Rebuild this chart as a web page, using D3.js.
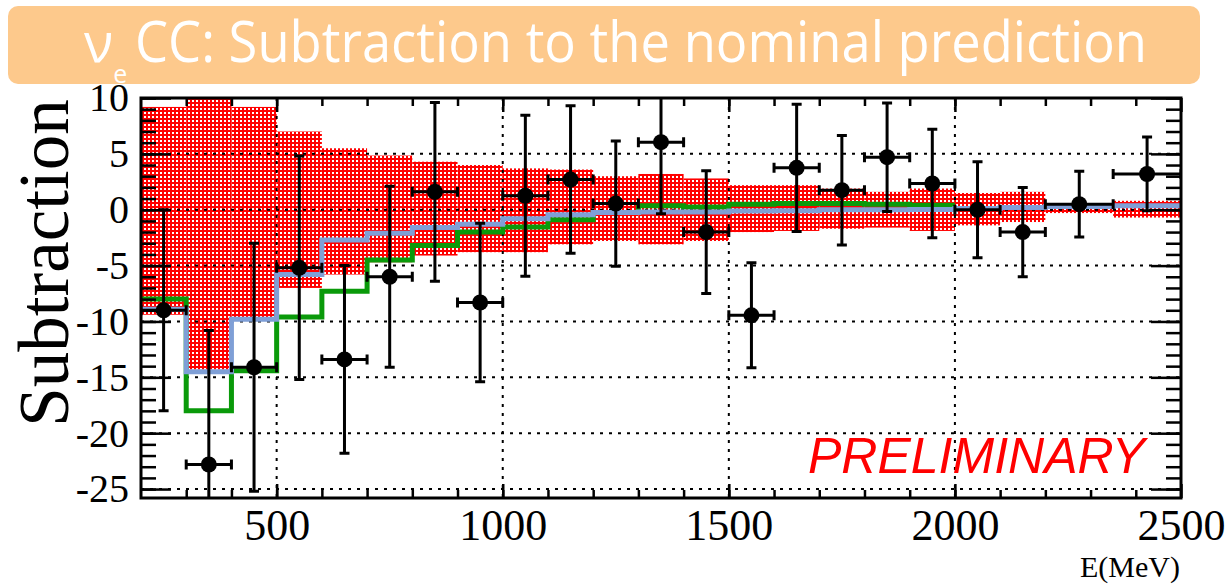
<!DOCTYPE html>
<html>
<head>
<meta charset="utf-8">
<script src="https://cdn.jsdelivr.net/npm/d3@7"></script>
<style>
  html, body { margin: 0; padding: 0; background: #fff; }
  svg { display: block; }
</style>
</head>
<body>
<div id="c"></div>
<script>
// bin edges (MeV); the last two bins are 150 MeV wide
const binEdges = [200, 300, 400, 500, 600, 700, 800, 900, 1000, 1100, 1200, 1300, 1400, 1500, 1600, 1700, 1800, 1900, 2000, 2100, 2200, 2350, 2500];
// systematic band, per bin
const bandLo = [-9.4, -14.3, -9.6, -7.0, -5.8, -4.7, -4.1, -3.8, -3.8, -3.1, -2.8, -3.1, -2.8, -2.0, -1.9, -1.7, -1.6, -1.9, -1.4, -1.1, -0.3, -0.7];
const bandHi = [9.2, 10.5, 9.2, 7.0, 5.5, 4.85, 4.3, 4.0, 3.7, 3.6, 3.0, 3.2, 2.8, 2.2, 2.2, 1.9, 1.6, 1.9, 1.5, 1.6, 0.5, 0.8];
// blue and green step histograms
const blueVals = [-8.9, -14.5, -9.8, -5.8, -2.7, -2.1, -1.6, -1.3, -0.8, -0.45, -0.25, -0.2, -0.2, -0.12, -0.08, 0.0, 0.0, 0.02, 0.1, 0.2, 0.3, 0.35];
const greenVals = [-8.0, -18.0, -14.4, -9.6, -7.3, -4.5, -3.2, -2.0, -1.55, -0.9, -0.25, 0.35, 0.25, 0.5, 0.55, 0.55, 0.5, 0.4];
// data points, one per bin
const dataVals = [-9.0, -22.8, -14.1, -5.2, -13.4, -6.0, 1.6, -8.3, 1.25, 2.7, 0.55, 6.05, -2.0, -9.45, 3.75, 1.75, 4.7, 2.35, 0.0, -2.0, 0.5, 3.2];
const dataErr = [9.0, 12.0, 11.1, 10.0, 8.4, 8.1, 8.0, 7.1, 7.2, 6.6, 5.6, 6.4, 5.5, 4.7, 5.7, 4.9, 4.85, 4.85, 4.3, 4.0, 2.95, 3.3];
// axes
const xTicks = [500, 1000, 1500, 2000, 2500];
const xMinor = d3.range(300, 2500, 100);
const yTicks = [-25, -20, -15, -10, -5, 0, 5, 10];
const yMinor = d3.range(-25, 11, 1);

const W = 1230, H = 584;
const SERIF = '"Liberation Serif", "Times New Roman", serif';
const SANS = '"Liberation Sans", Arial, sans-serif';
const RED = '#ff0000', BLUE = '#7f9fd6', GREEN = '#0a9a0a';

const svg = d3.select('#c').append('svg').attr('width', W).attr('height', H);
const x = d3.scaleLinear().domain([200, 2500]).range([141, 1181]);
const y = d3.scaleLinear().domain([-25.8, 10]).range([498, 98]);
const [x0, x1] = x.range(), [y1, y0] = y.range();

const defs = svg.append('defs');
const pat = defs.append('pattern').attr('id', 'dots').attr('patternUnits', 'userSpaceOnUse')
  .attr('width', 4).attr('height', 4);
pat.append('rect').attr('width', 4).attr('height', 4).attr('fill', RED);
pat.append('rect').attr('width', 2).attr('height', 2).attr('fill', '#fff');
defs.append('clipPath').attr('id', 'frame').append('rect')
  .attr('x', x0).attr('y', y0).attr('width', x1 - x0).attr('height', y1 - y0);

// title banner
svg.append('rect').attr('x', 8).attr('y', 6).attr('width', 1192).attr('height', 78).attr('rx', 10)
  .attr('fill', '#fdc98c');
const tt = svg.append('g').attr('fill', '#fff').attr('font-family', '"Open Sans", sans-serif');
const nu = tt.append('text').attr('x', 84).attr('y', 62);
nu.append('tspan').attr('font-size', 54).text('ν');
nu.append('tspan').attr('font-size', 25).attr('dy', 21).text('e');
tt.append('text').attr('x', 135).attr('y', 62).attr('font-size', 56)
  .attr('textLength', 1012).attr('lengthAdjust', 'spacingAndGlyphs')
  .text('CC: Subtraction to the nominal prediction');

const plot = svg.append('g').attr('clip-path', 'url(#frame)');

// band
const bins = d3.range(bandLo.length);
plot.append('g').selectAll('rect').data(bins).join('rect')
  .attr('x', (i) => x(binEdges[i])).attr('width', (i) => x(binEdges[i + 1]) - x(binEdges[i]))
  .attr('y', (i) => y(bandHi[i])).attr('height', (i) => y(bandLo[i]) - y(bandHi[i]))
  .attr('fill', 'url(#dots)');

// grid
const grid = plot.append('g').attr('stroke', '#000').attr('stroke-width', 2).attr('stroke-dasharray', '3,6');
grid.selectAll('line.v').data(xTicks.slice(0, -1)).join('line').attr('class', 'v')
  .attr('x1', x).attr('x2', x).attr('y1', y0).attr('y2', y1);
grid.selectAll('line.h').data(yTicks.slice(0, -1)).join('line').attr('class', 'h')
  .attr('x1', x0).attr('x2', x1).attr('y1', y).attr('y2', y);

// step histograms
const stepPts = (vals) => vals.map((v, i) => [binEdges[i], v]).concat([[binEdges[vals.length], vals[vals.length - 1]]]);
const step = d3.line().x((d) => x(d[0])).y((d) => y(d[1])).curve(d3.curveStepAfter);
plot.append('path').attr('d', step(stepPts(greenVals))).attr('fill', 'none')
  .attr('stroke', GREEN).attr('stroke-width', 5);
plot.append('path').attr('d', step(stepPts(blueVals))).attr('fill', 'none')
  .attr('stroke', BLUE).attr('stroke-width', 5);

// data points with error bars
const pts = dataVals.map((v, i) => ({ lo: binEdges[i], hi: binEdges[i + 1], c: (binEdges[i] + binEdges[i + 1]) / 2, v, e: dataErr[i] }));
const eg = plot.append('g').attr('stroke', '#000').attr('stroke-width', 3);
eg.selectAll('path').data(pts).join('path').attr('fill', 'none')
  .attr('d', (d) => {
    const cx = x(d.c), cy = y(d.v), t = y(d.v + d.e), b = y(d.v - d.e), l = x(d.lo), r = x(d.hi);
    return `M${cx},${t}V${b}M${l},${cy}H${r}` +
      `M${cx - 5},${t}H${cx + 5}M${cx - 5},${b}H${cx + 5}` +
      `M${l},${cy - 5}V${cy + 5}M${r},${cy - 5}V${cy + 5}`;
  });
plot.append('g').selectAll('circle').data(pts).join('circle')
  .attr('cx', (d) => x(d.c)).attr('cy', (d) => y(d.v)).attr('r', 8).attr('fill', '#000');

// PRELIMINARY
svg.append('text').attr('x', 808).attr('y', 473).attr('font-family', SANS).attr('font-style', 'italic')
  .attr('font-size', 50).attr('fill', RED).text('PRELIMINARY');

// ticks
const tickG = svg.append('g');
const axis = (gen, tr) => tickG.append('g').attr('transform', tr).call(gen)
  .call((g) => g.select('.domain').remove())
  .call((g) => g.selectAll('line').attr('stroke-width', 2.5));
axis(d3.axisBottom(x).tickValues(xTicks).tickSize(-14).tickPadding(11).tickFormat((d) => String(d)), `translate(0,${y1})`)
  .selectAll('text').attr('font-family', SERIF).attr('font-size', 44).attr('fill', '#000');
axis(d3.axisBottom(x).tickValues(xMinor).tickSize(-8).tickFormat(''), `translate(0,${y1})`);
axis(d3.axisTop(x).tickValues(xTicks).tickSize(-14).tickFormat(''), `translate(0,${y0})`);
axis(d3.axisTop(x).tickValues(xMinor).tickSize(-8).tickFormat(''), `translate(0,${y0})`);
axis(d3.axisLeft(y).tickValues(yTicks).tickSize(-30).tickPadding(12).tickFormat((d) => String(d)), `translate(${x0},0)`)
  .selectAll('text').attr('font-family', SERIF).attr('font-size', 40).attr('fill', '#000');
axis(d3.axisLeft(y).tickValues(yMinor).tickSize(-15).tickFormat(''), `translate(${x0},0)`);
axis(d3.axisRight(y).tickValues(yTicks).tickSize(-30).tickFormat(''), `translate(${x1},0)`);
axis(d3.axisRight(y).tickValues(yMinor).tickSize(-15).tickFormat(''), `translate(${x1},0)`);

// frame
svg.append('rect').attr('x', x0).attr('y', y0).attr('width', x1 - x0).attr('height', y1 - y0)
  .attr('fill', 'none').attr('stroke', '#000').attr('stroke-width', 3);

// axis titles
svg.append('text').attr('transform', 'translate(68,263) rotate(-90)').attr('text-anchor', 'middle')
  .attr('font-family', SERIF).attr('font-size', 71).attr('fill', '#000').text('Subtraction');
svg.append('text').attr('x', 1180).attr('y', 577).attr('text-anchor', 'end')
  .attr('font-family', SERIF).attr('font-size', 30).attr('fill', '#000').text('E(MeV)');
</script>
</body>
</html>
